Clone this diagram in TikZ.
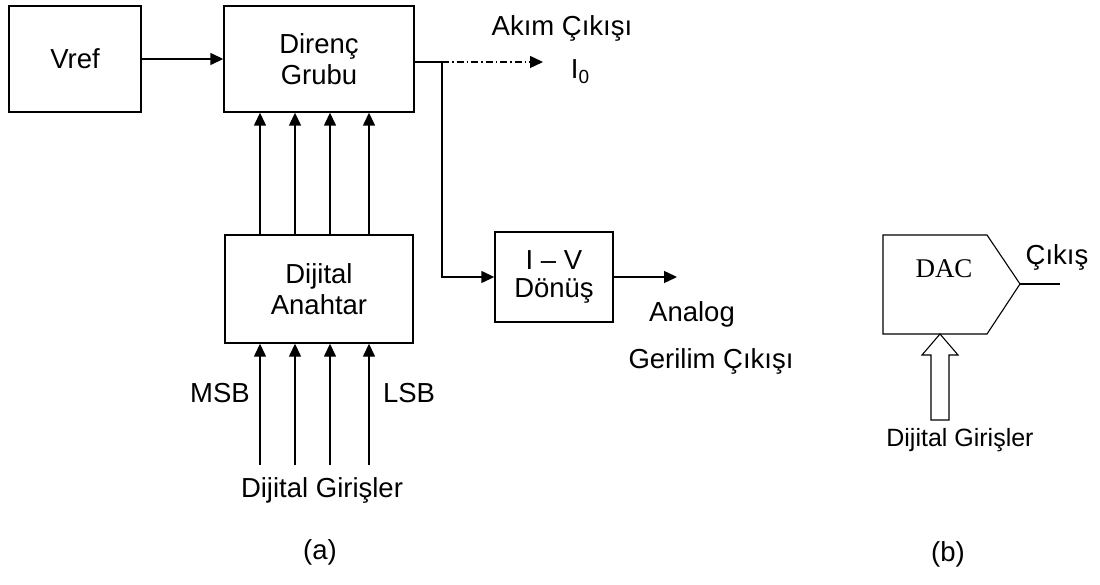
\documentclass[tikz,border=0pt]{standalone}
\usepackage{fontspec}
\setmainfont{Liberation Sans}
\newfontfamily\dacserif{Liberation Serif}
\usetikzlibrary{arrows.meta,calc}
\begin{document}
\begin{tikzpicture}[x=1pt,y=-1pt,
  line width=1.4pt,
  every node/.style={font=\fontsize{27.5}{31}\selectfont, inner sep=0pt},
  blk/.style={draw, align=center},
  lbl/.style={text height=0.72em, text depth=0pt},
  arr/.style={-{Triangle[length=13pt,width=12pt]}},
  dashdotline/.style={dash pattern=on 7pt off 3pt on 1.5pt off 3pt}]
\useasboundingbox (0,0) rectangle (1100,585);
% (a) blocks
\node[blk, minimum width=132pt, minimum height=106pt] (vref) at (75,59) {Vref};
\node[blk, minimum width=190pt, minimum height=106pt] (direnc) at (319,59) {Direnç\\Grubu};
\node[blk, minimum width=188pt, minimum height=108pt] (anahtar) at (319,289) {Dijital\\Anahtar};
\node[blk, minimum width=118pt, minimum height=90pt, font=\fontsize{27.5}{28}\selectfont] (iv) at (554,277) {I – V\\Dönüş};
% connectors
\draw[arr] (vref) -- (direnc);
\foreach \i/\x in {1/260,2/295,3/330,4/369}{
  \coordinate (c\i) at (\x,0);
  \coordinate (in\i) at (\x,465);
  \draw[arr] (c\i |- anahtar.north) -- (c\i |- direnc.south);
  \draw[arr] (in\i) -- (in\i |- anahtar.south);
}
\coordinate (split) at (442,62);
\coordinate (io) at (543,62);
\coordinate (vo) at (677,0);
\draw (split -| direnc.east) -- (split);
\draw[arr, dashdotline] (split) -- (io);
\draw[arr] (split) |- (iv.west);
\draw[arr] (iv.east) -- (vo |- iv.east);
% labels (a)
\node[lbl] (akim) at (562,32) {Akım Çıkışı};
\node[lbl] (i0) at (580,75) {I{\fontsize{19}{19}\selectfont\raisebox{-5pt}{0}}};
\node[lbl] (msb) at (220,399) {MSB};
\node[lbl] (lsb) at (409,399) {LSB};
\node[lbl] (dgA) at (322,494) {Dijital Girişler};
\node[lbl] (analog) at (692,318) {Analog};
\node[lbl] (gerilim) at (711,365) {Gerilim Çıkışı};
\node[lbl] (capa) at (320,556) {(a)};
% (b) DAC symbol
\draw[line width=1.1pt] (883,235) -- (987,235) -- (1020,284) -- (987,334) -- (883,334) -- cycle;
\coordinate (dacout) at (1020,284);
\coordinate (dacend) at (1060,284);
\draw[line width=1.1pt] (dacout) -- (dacend);
\node[lbl, font=\dacserif\fontsize{27}{30}\selectfont] (dac) at (944,274) {DAC};
\draw[line width=1.1pt] (940,334) -- (958,355) -- (949,355) -- (949,420) -- (931,420) -- (931,355) -- (922,355) -- cycle;
\node[lbl] (cikis) at (1057,261) {Çıkış};
\node[lbl, font=\fontsize{25}{28}\selectfont] (dgB) at (960,443) {Dijital Girişler};
\node[lbl] (capb) at (948,558) {(b)};
\end{tikzpicture}
\end{document}
